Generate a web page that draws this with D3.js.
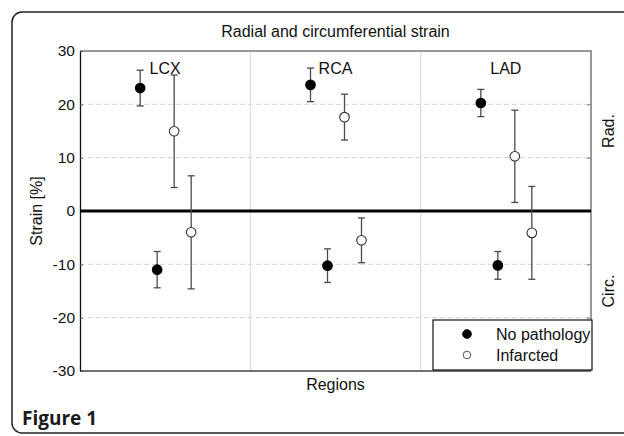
<!DOCTYPE html>
<html>
<head>
<meta charset="utf-8">
<script src="https://d3js.org/d3.v7.min.js"></script>
<style>
  body { margin: 0; background: white; }
  text { font-family: "Liberation Sans", Arial, sans-serif; }
</style>
</head>
<body>
<svg id="chart" width="624" height="436"></svg>
<script>
// regions and the four series (mean, sd)
const regions = ["LCX", "RCA", "LAD"];
const seriesKeys = ["normRad", "normCirc", "infRad", "infCirc"];

const normRadMean = [23.05, 23.65, 20.25];
const normRadSd = [3.35, 3.15, 2.55];
const normCircMean = [-11.0, -10.25, -10.2];
const normCircSd = [3.4, 3.15, 2.6];
const infRadMean = [14.95, 17.6, 10.25];
const infRadSd = [10.55, 4.3, 8.65];
const infCircMean = [-4.0, -5.5, -4.1];
const infCircSd = [10.6, 4.2, 8.7];

const yTicks = [-30, -20, -10, 0, 10, 20, 30];
const gridValues = [-20, -10, 10, 20];

const svg = d3.select("#chart");

// outer frame
svg.append("rect")
  .attr("x", 12).attr("y", 12)
  .attr("width", 640).attr("height", 421)
  .attr("rx", 10).attr("ry", 10)
  .attr("fill", "none")
  .attr("stroke", "#222")
  .attr("stroke-width", 1.5);

const margin = {left: 80, right: 591, top: 51, bottom: 371};

const x = d3.scaleBand().domain(regions).range([margin.left, margin.right]);
const inner = d3.scalePoint().domain(seriesKeys).range([-25, 26]);
const y = d3.scaleLinear().domain([-30, 30]).range([margin.bottom, margin.top]);

// horizontal dashed grid
svg.append("g").selectAll("line")
  .data(gridValues)
  .join("line")
  .attr("x1", margin.left).attr("x2", margin.right)
  .attr("y1", d => y(d)).attr("y2", d => y(d))
  .attr("stroke", "#d4d4d4")
  .attr("stroke-dasharray", "5,3");

// vertical region separators
svg.append("g").selectAll("line")
  .data(regions.slice(1))
  .join("line")
  .attr("x1", d => x(d)).attr("x2", d => x(d))
  .attr("y1", margin.top).attr("y2", margin.bottom)
  .attr("stroke", "#e0e0e0")
  .attr("stroke-width", 1.5);

// top and right border
svg.append("path")
  .attr("d", `M${margin.left},${margin.top}H${margin.right}V${margin.bottom}`)
  .attr("fill", "none")
  .attr("stroke", "#999")
  .attr("stroke-width", 2);

// right side ticks
const rightAxis = svg.append("g")
  .attr("transform", `translate(${margin.right},0)`)
  .call(d3.axisRight(y).tickValues(gridValues).tickSizeInner(-4).tickSizeOuter(0).tickFormat(""));
rightAxis.select(".domain").remove();
rightAxis.selectAll("line").attr("stroke", "#777");

// bottom border
svg.append("line")
  .attr("x1", margin.left).attr("x2", margin.right)
  .attr("y1", margin.bottom).attr("y2", margin.bottom)
  .attr("stroke", "#444")
  .attr("stroke-width", 1.5);

// left axis
const leftAxis = svg.append("g")
  .attr("transform", `translate(${margin.left},0)`)
  .call(d3.axisLeft(y).tickValues(yTicks).tickSizeInner(-3).tickSizeOuter(0).tickPadding(5)
    .tickFormat(d => String(d)));
leftAxis.select(".domain").attr("stroke", "#111").attr("stroke-width", 1.3);
leftAxis.selectAll("line").attr("stroke", "#555");
leftAxis.selectAll("text")
  .style("font-family", "'Liberation Sans', Arial, sans-serif")
  .style("font-size", "15.5px")
  .attr("fill", "#111");

// zero line
svg.append("line")
  .attr("x1", margin.left).attr("x2", margin.right)
  .attr("y1", y(0)).attr("y2", y(0))
  .attr("stroke", "black")
  .attr("stroke-width", 3);

// region labels
svg.append("g").selectAll("text")
  .data(regions)
  .join("text")
  .attr("x", d => x(d) + x.bandwidth() / 2)
  .attr("y", 74)
  .attr("text-anchor", "middle")
  .style("font-size", "16px")
  .attr("fill", "#111")
  .text(d => d);

// assemble points
const means = {normRad: normRadMean, normCirc: normCircMean, infRad: infRadMean, infCirc: infCircMean};
const sds = {normRad: normRadSd, normCirc: normCircSd, infRad: infRadSd, infCirc: infCircSd};
const points = [];
seriesKeys.forEach(k => {
  regions.forEach((r, i) => {
    points.push({region: r, key: k, mean: means[k][i], sd: sds[k][i], filled: k.startsWith("norm")});
  });
});

const px = d => x(d.region) + x.bandwidth() / 2 + inner(d.key);

// error bars
const eb = svg.append("g").selectAll("g")
  .data(points)
  .join("g")
  .attr("stroke", "#4a4a4a")
  .attr("stroke-width", 1.3);
eb.append("line")
  .attr("x1", px).attr("x2", px)
  .attr("y1", d => y(d.mean + d.sd)).attr("y2", d => y(d.mean - d.sd));
eb.append("line")
  .attr("x1", d => px(d) - 3.5).attr("x2", d => px(d) + 3.5)
  .attr("y1", d => y(d.mean + d.sd)).attr("y2", d => y(d.mean + d.sd));
eb.append("line")
  .attr("x1", d => px(d) - 3.5).attr("x2", d => px(d) + 3.5)
  .attr("y1", d => y(d.mean - d.sd)).attr("y2", d => y(d.mean - d.sd));

// markers
svg.append("g").selectAll("circle")
  .data(points)
  .join("circle")
  .attr("cx", px)
  .attr("cy", d => y(d.mean))
  .attr("r", 4.8)
  .attr("fill", d => d.filled ? "black" : "white")
  .attr("stroke", d => d.filled ? "black" : "#333")
  .attr("stroke-width", 1.1);

// title and axis labels
svg.append("text")
  .attr("x", (margin.left + margin.right) / 2)
  .attr("y", 37)
  .attr("text-anchor", "middle")
  .style("font-size", "16px")
  .attr("fill", "#111")
  .text("Radial and circumferential strain");

svg.append("text")
  .attr("transform", `translate(42,${y(0)}) rotate(-90)`)
  .attr("text-anchor", "middle")
  .style("font-size", "16px")
  .attr("fill", "#111")
  .text("Strain [%]");

svg.append("text")
  .attr("x", (margin.left + margin.right) / 2)
  .attr("y", 390)
  .attr("text-anchor", "middle")
  .style("font-size", "16px")
  .attr("fill", "#111")
  .text("Regions");

svg.append("text")
  .attr("transform", `translate(614,${y(15)}) rotate(-90)`)
  .attr("text-anchor", "middle")
  .style("font-size", "16px")
  .attr("fill", "#111")
  .text("Rad.");

svg.append("text")
  .attr("transform", `translate(614,${y(-15)}) rotate(-90)`)
  .attr("text-anchor", "middle")
  .style("font-size", "16px")
  .attr("fill", "#111")
  .text("Circ.");

// legend
const legendItems = [{label: "No pathology", filled: true}, {label: "Infarcted", filled: false}];
const legend = svg.append("g");
legend.append("rect")
  .attr("x", 433).attr("y", 320)
  .attr("width", 159).attr("height", 50)
  .attr("fill", "white")
  .attr("stroke", "#111")
  .attr("stroke-width", 1.2);
legend.selectAll("circle")
  .data(legendItems)
  .join("circle")
  .attr("cx", 467)
  .attr("cy", (d, i) => 334 + i * 21)
  .attr("r", d => d.filled ? 4.3 : 3.8)
  .attr("fill", d => d.filled ? "black" : "white")
  .attr("stroke", d => d.filled ? "black" : "#555");
legend.selectAll("text")
  .data(legendItems)
  .join("text")
  .attr("x", 496)
  .attr("y", (d, i) => 340 + i * 21)
  .style("font-size", "16px")
  .attr("fill", "#111")
  .text(d => d.label);

// figure caption
svg.append("text")
  .attr("x", 22)
  .attr("y", 425)
  .style("font-family", "'Open Sans', sans-serif")
  .style("font-weight", "bold")
  .style("font-size", "19px")
  .attr("fill", "#1a1a1a")
  .text("Figure 1");
</script>
</body>
</html>
